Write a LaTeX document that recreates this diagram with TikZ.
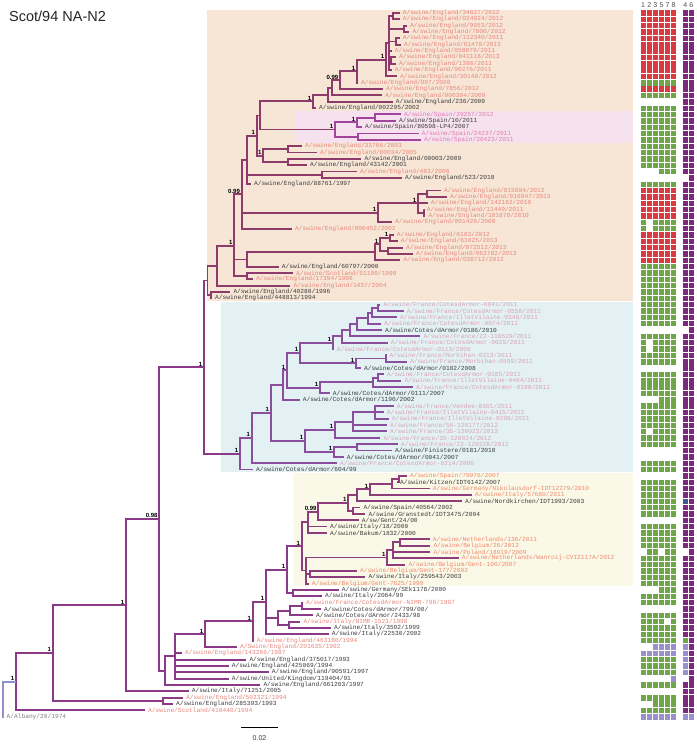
\documentclass[tikz,border=0pt]{standalone}
\usepackage{fontspec}
\setmainfont{Liberation Sans}
\newfontfamily\monof{Liberation Mono}
\usetikzlibrary{calc}
\definecolor{cp}{HTML}{E8867C}
\definecolor{cs}{HTML}{E07AAE}
\definecolor{cf}{HTML}{D9A2B6}
\definecolor{cy}{HTML}{EF8A6E}
\definecolor{ck}{HTML}{3C3C3C}
\definecolor{cg}{HTML}{808080}
\definecolor{bgE}{HTML}{F7E6D6}
\definecolor{bgS}{HTML}{F6E2EF}
\definecolor{bgF}{HTML}{E3F1F5}
\definecolor{bgY}{HTML}{FAF8E7}
\definecolor{hR}{HTML}{DA3A40}
\definecolor{hG}{HTML}{6EA648}
\definecolor{hP}{HTML}{7D2A7E}
\definecolor{hL}{HTML}{9A90CC}
\definecolor{hB}{HTML}{3A5A94}
\definecolor{hW}{HTML}{FFFFFF}
\definecolor{alb}{HTML}{9090D0}
\definecolor{brc}{HTML}{8E3A6A}
\newcommand\lf[5]{%
  \coordinate (#1) at ({#3-3},{13+(#2-1)*6.34});
  \node[lab,text=#4] (#1t) at (#3,{13+(#2-1)*6.34}) {#5};}
\newcommand\cl[4][]{%
  \gdef\fst{}%
  \foreach \ch in {#4}{\ifx\fst\empty\xdef\fst{\ch}\fi\xdef\lst{\ch}}%
  \if\relax\detokenize{#1}\relax
    \path let \p1=(\fst), \p2=(\lst) in coordinate (#2) at (#3pt,{0.5*(\y1+\y2)});
  \else
    \coordinate (#2) at (#3,#1);
  \fi
  \foreach \ch in {#4}{\draw[br] (#2) |- (\ch);}}
\newcommand\bl[2]{\node[blab] at (#1) {#2};}
\newcommand\hrow[2]{%
  \foreach \cc [count=\k] in {#2}{%
    \pgfmathsetmacro\xx{\k<7 ? 640.5+(\k-1)*6.1 : (\k==7 ? 682.7 : 688.7)}%
    \fill[color=h\cc] (\xx,{10.4+(#1-1)*6.34}) rectangle ++(5.3,5.4);}}
\newcommand\hrows[3]{\foreach \r in {#1,...,#2}{\hrow{\r}{#3}}}
\begin{document}
\begin{tikzpicture}[x=1pt,y=-1pt,
  lab/.style={anchor=west,inner sep=0pt,font=\monof\fontsize{6.2}{6.2}\selectfont},
  blab/.style={anchor=south east,inner sep=0pt,xshift=-1.6pt,yshift=0.9pt,font=\bfseries\fontsize{6}{6}\selectfont},
  br/.style={draw=brc,line width=1.9pt}]
\useasboundingbox (0,0) rectangle (696,744);
\fill[white] (0,0) rectangle (696,744);
% backgrounds
\fill[bgE] (207,10) rectangle (633,301);
\fill[bgS] (295,110.7) rectangle (633,142.7);
\fill[bgF] (221,302) rectangle (633,471.7);
\fill[bgY] (293,473.3) rectangle (633,585.7);
% title
\node[anchor=west,inner sep=0pt,font=\fontsize{14.5}{14.5}\selectfont,text=black!85] (title) at (9,16) {Scot/94 NA-N2};
% leaves
\lf{L1}{1}{402.7}{cp}{A/swine/England/34627/2012}
\lf{L2}{2}{402.7}{cp}{A/swine/England/024924/2012}
\lf{L3}{3}{410}{cp}{A/swine/England/9953/2012}
\lf{L4}{4}{412.3}{cp}{A/swine/England/7800/2012}
\lf{L5}{5}{402.7}{cp}{A/swine/England/112340/2011}
\lf{L6}{6}{404}{cp}{A/swine/England/61470/2013}
\lf{L7}{7}{394.7}{cp}{A/swine/England/058879/2011}
\lf{L8}{8}{399}{cp}{A/swine/England/041118/2013}
\lf{L9}{9}{399}{cp}{A/swine/England/1380/2011}
\lf{L10}{10}{394.7}{cp}{A/swine/England/90276/2011}
\lf{L11}{11}{400}{cp}{A/swine/England/30148/2012}
\lf{L12}{12}{361}{cp}{A/swine/England/997/2008}
\lf{L13}{13}{386}{cp}{A/swine/England/7856/2012}
\lf{L14}{14}{385}{cp}{A/swine/England/000304/2009}
\lf{L15}{15}{395.7}{ck}{A/swine/England/236/2009}
\lf{L16}{16}{319}{ck}{A/swine/England/002295/2002}
\lf{L17}{17}{404}{cs}{A/swine/Spain/29257/2012}
\lf{L18}{18}{399}{ck}{A/swine/Spain/10/2011}
\lf{L19}{19}{365}{ck}{A/swine/Spain/80598-LP4/2007}
\lf{L20}{20}{421.7}{cs}{A/swine/Spain/24237/2011}
\lf{L21}{21}{424}{cs}{A/swine/Spain/20423/2011}
\lf{L22}{22}{305}{cp}{A/swine/England/33766/2003}
\lf{L23}{23}{320}{cp}{A/swine/England/00034/2005}
\lf{L24}{24}{364.3}{ck}{A/swine/England/00003/2009}
\lf{L25}{25}{310}{ck}{A/swine/England/43142/2001}
\lf{L26}{26}{360}{cp}{A/swine/England/483/2006}
\lf{L27}{27}{405}{ck}{A/swine/England/523/2010}
\lf{L28}{28}{254}{ck}{A/swine/England/88761/1997}
\lf{L29}{29}{444}{cp}{A/swine/England/015804/2012}
\lf{L30}{30}{450}{cp}{A/swine/England/016947/2013}
\lf{L31}{31}{430.7}{cp}{A/swine/England/142162/2010}
\lf{L32}{32}{426.7}{cp}{A/swine/England/11449/2011}
\lf{L33}{33}{428.3}{cp}{A/swine/England/101878/2010}
\lf{L34}{34}{395}{cp}{A/swine/England/001428/2009}
\lf{L35}{35}{295}{cp}{A/swine/England/000452/2002}
\lf{L36}{36}{396.7}{cp}{A/swine/England/6183/2012}
\lf{L37}{37}{400.7}{cp}{A/swine/England/61025/2013}
\lf{L38}{38}{406}{cp}{A/swine/England/072512/2013}
\lf{L39}{39}{416}{cp}{A/swine/England/063782/2013}
\lf{L40}{40}{403.3}{cp}{A/swine/England/038712/2012}
\lf{L41}{41}{281.7}{ck}{A/swine/England/60797/2000}
\lf{L42}{42}{296}{cp}{A/swine/Scotland/51190/1999}
\lf{L43}{43}{256}{cp}{A/swine/England/17394/1996}
\lf{L44}{44}{293.3}{cp}{A/swine/England/1437/2004}
\lf{L45}{45}{233.3}{ck}{A/swine/England/40280/1996}
\lf{L46}{46}{215}{ck}{A/swine/England/448813/1994}
\lf{L47}{47}{383.3}{cf}{A/swine/France/CotesdArmor-0041/2011}
\lf{L48}{48}{406.7}{cf}{A/swine/France/CotesdArmor-0558/2011}
\lf{L49}{49}{400}{cf}{A/swine/France/IlletVilaine-0346/2011}
\lf{L50}{50}{384}{cf}{A/swine/France/CotesdArmor-0074/2011}
\lf{L51}{51}{385}{ck}{A/swine/Cotes/dArmor/0186/2010}
\lf{L52}{52}{423.3}{cf}{A/swine/France/22-110529/2011}
\lf{L53}{53}{390.7}{cf}{A/swine/France/CotesdArmor-0025/2011}
\lf{L54}{54}{336.7}{cf}{A/swine/France/CotesdArmor-0113/2006}
\lf{L55}{55}{389.3}{cf}{A/swine/France/Morbihan-0213/2011}
\lf{L56}{56}{410}{cf}{A/swine/France/Morbihan-0599/2011}
\lf{L57}{57}{364}{ck}{A/swine/Cotes/dArmor/0102/2008}
\lf{L58}{58}{386.7}{cf}{A/swine/France/CotesdArmor-0105/2011}
\lf{L59}{59}{404.3}{cf}{A/swine/France/IlletVilaine-0404/2011}
\lf{L60}{60}{416}{cf}{A/swine/France/CotesdArmor-0198/2011}
\lf{L61}{61}{332.7}{ck}{A/swine/Cotes/dArmor/0111/2007}
\lf{L62}{62}{302.7}{ck}{A/swine/Cotes/dArmor/1190/2002}
\lf{L63}{63}{396.7}{cf}{A/swine/France/Vendee-0301/2011}
\lf{L64}{64}{386.7}{cf}{A/swine/France/IlletVilaine-0415/2011}
\lf{L65}{65}{391.7}{cf}{A/swine/France/IlletVilaine-0208/2011}
\lf{L66}{66}{390}{cf}{A/swine/France/56-120177/2012}
\lf{L67}{67}{390}{cf}{A/swine/France/35-130023/2013}
\lf{L68}{68}{383.3}{cf}{A/swine/France/35-120024/2012}
\lf{L69}{69}{400.7}{cf}{A/swine/France/22-120228/2012}
\lf{L70}{70}{395}{ck}{A/swine/Finistere/0181/2010}
\lf{L71}{71}{346.7}{ck}{A/swine/Cotes/dArmor/0041/2007}
\lf{L72}{72}{340}{cf}{A/swine/France/CotesdArmor-0214/2006}
\lf{L73}{73}{256}{ck}{A/swine/Cotes/dArmor/604/99}
\lf{L74}{74}{410}{cy}{A/swine/Spain/79976/2007}
\lf{L75}{75}{400}{ck}{A/swine/Kitzen/IDT6142/2007}
\lf{L76}{76}{432.7}{cy}{A/swine/Germany/Nikolausdorf-IDT12279/2010}
\lf{L77}{77}{475}{cy}{A/swine/Italy/57680/2011}
\lf{L78}{78}{465}{ck}{A/swine/Nordkirchen/IDT1993/2003}
\lf{L79}{79}{363.3}{ck}{A/swine/Spain/40564/2002}
\lf{L80}{80}{368.3}{ck}{A/swine/Granstedt/IDT3475/2004}
\lf{L81}{81}{361.7}{ck}{A/sw/Gent/24/00}
\lf{L82}{82}{330}{ck}{A/swine/Italy/18/2000}
\lf{L83}{83}{330}{ck}{A/swine/Bakum/1832/2000}
\lf{L84}{84}{432.7}{cy}{A/swine/Netherlands/136/2011}
\lf{L85}{85}{433.3}{cy}{A/swine/Belgium/26/2012}
\lf{L86}{86}{433.3}{cy}{A/swine/Poland/18919/2009}
\lf{L87}{87}{461.7}{cy}{A/swine/Netherlands/Wanroij-CVI2117A/2012}
\lf{L88}{88}{408.3}{cy}{A/swine/Belgium/Gent-100/2007}
\lf{L89}{89}{360}{cy}{A/swine/Belgium/Gent-177/2002}
\lf{L90}{90}{368.3}{ck}{A/swine/Italy/259543/2003}
\lf{L91}{91}{311.7}{cy}{A/swine/Belgium/Gent-7625/1999}
\lf{L92}{92}{341.7}{ck}{A/swine/Germany/SEk1178/2000}
\lf{L93}{93}{325}{ck}{A/swine/Italy/2064/99}
\lf{L94}{94}{306}{cp}{A/swine/France/CotesdArmor-NIMR-790/1997}
\lf{L95}{95}{324}{ck}{A/swine/Cotes/dArmor/799/00/}
\lf{L96}{96}{316}{ck}{A/swine/Cotes/dArmor/2433/98}
\lf{L97}{97}{303.3}{cp}{A/swine/Italy/NIMR-1521/1998}
\lf{L98}{98}{334}{ck}{A/swine/Italy/3592/1999}
\lf{L99}{99}{331.7}{ck}{A/swine/Italy/22530/2002}
\lf{L100}{100}{256.7}{cp}{A/swine/England/463180/1994}
\lf{L101}{101}{240}{cp}{A/Swine/England/201635/1992}
\lf{L102}{102}{185}{cp}{A/swine/England/143266/1987}
\lf{L103}{103}{249.3}{ck}{A/swine/England/375017/1993}
\lf{L104}{104}{231.7}{ck}{A/swine/England/425069/1994}
\lf{L105}{105}{271.7}{ck}{A/swine/England/90591/1997}
\lf{L106}{106}{231.7}{ck}{A/swine/United/Kingdom/119404/91}
\lf{L107}{107}{263.3}{ck}{A/swine/England/661263/1997}
\lf{L108}{108}{191.7}{ck}{A/swine/Italy/71251/2005}
\lf{L109}{109}{186}{cp}{A/swine/England/502321/1994}
\lf{L110}{110}{176}{ck}{A/swine/England/285393/1993}
\lf{L111}{111}{148}{cp}{A/swine/Scotland/410440/1994}
\lf{L112}{112}{6.5}{cg}{A/Albany/20/1974}
% England clade
\definecolor{brc}{HTML}{8E3A6A}
\cl{n12}{393}{L1,L2}
\cl{n34}{404}{L3,L4}
\cl{n56}{396}{L5,L6}
\cl{n89}{391}{L8,L9}
\cl{sub}{389}{n12,n34,n56,L7,n89,L10}
\cl{C1}{386}{sub,L11}
\cl{N1}{357}{C1,L12}
\cl{N099}{340}{N1,L13}
\cl{N2}{332}{N099,L14}
\cl{N3}{328}{N2,L15}
\cl{NE1}{313}{N3,L16}
\definecolor{brc}{HTML}{A2449C}
\cl{nS11}{375}{L17,L18}
\cl{nS1}{357}{nS11,L19}
\cl{nS2}{358}{L20,L21}
\cl{nS}{335}{nS1,nS2}
\definecolor{brc}{HTML}{8E3A6A}
\cl{NES}{260}{NE1,nS}
\cl{n2223}{288}{L22,L23}
\cl{n2425}{288}{L24,L25}
\cl{nE2}{263.3}{n2223,n2425}
\cl{G1}{256.7}{NES,nE2}
\cl{n2627}{322}{L26,L27}
\cl{G2}{246.7}{G1,n2627,L28}
\cl{n2930}{427}{L29,L30}
\cl{n3233}{424}{L32,L33}
\cl{E3a}{418}{n2930,L31,n3233}
\cl{E3}{378}{E3a,L34}
\cl{Q}{241.7}{G2,E3,L35}
\cl{n3637}{390}{L36,L37}
\cl{n3839}{388}{L38,L39}
\cl{E4b}{380}{n3637,n3839}
\cl{E4}{375}{E4b,L40}
\cl{n4041}{246.7}{E4,L41}
\cl{n4243}{246.7}{L42,L43}
\cl[246]{P}{234.3}{Q,n4041,n4243}
\cl{O}{216.7}{P,L44}
\cl{n4546}{211}{L45,L46}
\cl{RE}{207.5}{O,n4546}
% France clade
\definecolor{brc}{HTML}{8A4E9C}
\cl{n4748}{378}{L47,L48}
\cl{nA1}{372}{n4748,L49}
\cl{nA2}{368}{nA1,L50}
\cl{nA3}{357}{nA2,L51}
\cl{nA4}{350}{nA3,L52}
\cl{nA5}{342}{nA4,L53}
\cl{F7}{333}{nA5,L54}
\cl{n5556}{386}{L55,L56}
\cl{F8}{356}{n5556,L57}
\cl{F5}{300}{F7,F8}
\cl{n5859}{378}{L58,L59}
\cl{F6a}{373}{n5859,L60}
\cl{F6}{320}{F6a,L61}
\cl{F3a}{287}{F5,F6}
\cl{F3}{283}{F3a,L62}
\cl{n6365}{375}{L63,L64,L65}
\cl{F4c}{353}{n6365,L66,L67}
\cl{F4a}{335}{F4c,L68}
\cl{n6970}{356.7}{L69,L70}
\cl{F4b}{334}{n6970,L71}
\cl{F4}{305}{F4a,F4b}
\cl{F2}{270.7}{F3,F4}
\cl{F1}{251.7}{F2,L72}
\cl{Fr}{240}{F1,L73}
\definecolor{brc}{HTML}{8B3A88}
\cl{B1}{204}{RE,Fr}
% yellow clade
\definecolor{brc}{HTML}{8F3C7C}
\cl{n7475}{399}{L74,L75}
\cl{n7476}{391.7}{n7475,L76}
\cl{n7477}{370}{n7476,L77}
\cl{n7478}{357}{n7477,L78}
\cl{n7980}{353.3}{L79,L80}
\cl{Y1a}{348.3}{n7478,n7980}
\cl{Y1}{318.3}{Y1a,L81}
\cl{Y1p}{308}{Y1,L82,L83}
\cl{n8485}{400}{L84,L85}
\cl{Y2a}{393.3}{n8485,L86,L87}
\cl{Y2}{387.3}{Y2a,L88}
\cl{n8990}{310}{L89,L90}
\cl{Y2p}{306}{Y2,n8990,L91}
\cl{Y}{301.7}{Y1p,Y2p}
\definecolor{brc}{HTML}{8B3A88}
\cl{n9293}{293.3}{L92,L93}
\cl{C4}{287}{Y,n9293}
\cl{n9495}{301.7}{L94,L95}
\cl{n9496}{290}{n9495,L96}
\cl{n9798}{289.3}{L97,L98}
\cl{C5}{278.3}{n9496,n9798}
\cl{C3}{266}{C4,C5,L99}
\cl{C2}{252.7}{C3,L100}
\cl{K1}{205}{C2,L101}
\cl{B4}{175}{K1,L102,L103,L104,L105,L106}
\cl{B3}{165}{B4,L107}
\cl{B2}{159.3}{B1,B3}
\cl{B0}{126}{B2,L108}
\cl{n109110}{163.3}{L109,L110}
\cl{A1}{52.7}{B0,n109110}
\cl{R}{16}{A1,L111}
\coordinate (T0) at (3.3,0);
\coordinate (T) at (R -| T0);
\draw[draw=alb,line width=1.9pt] (R) -- (T) |- (L112);
% support labels
\bl{C1}{1}\bl{N1}{1}\bl{N099}{0.99}\bl{NE1}{1}\bl{nS1}{1}\bl{nS}{1}
\bl{G1}{1}\bl{nE2}{1}\bl{E3a}{1}\bl{E3}{1}\bl{Q}{0.99}\bl{n3637}{1}\bl{E4b}{1}
\bl{P}{1}\bl{B1}{1}\bl{B2}{0.98}
\bl{F7}{1}\bl{F8}{1}\bl{F5}{1}\bl{F6}{1}\bl{F3a}{1}\bl{F4a}{1}\bl{F4b}{1}\bl{F4}{1}
\bl{F2}{1}\bl{F1}{1}\bl{Fr}{1}
\bl{n7477}{1}\bl{Y1a}{1}\bl{Y1}{0.99}\bl{Y2}{1}\bl{Y}{1}\bl{C4}{1}\bl{C3}{1}\bl{C2}{1}
\bl{K1}{1}\bl{B0}{1}\bl{A1}{1}\bl{R}{1}
% scale bar
\coordinate (sb1) at (241,727);
\coordinate (sb2) at (278,727);
\draw[line width=1pt] (sb1) -- (sb2);
\node[font=\fontsize{7}{7}\selectfont,text=ck] (sbl) at (259.5,738) {0.02};
% heat map header
\foreach \d [count=\k] in {1,2,3,5,7,8,4,6}{%
  \pgfmathsetmacro\xx{\k<7 ? 640.5+(\k-1)*6.1+2.65 : (\k==7 ? 685.35 : 691.35)}%
  \node[font=\fontsize{7}{7}\selectfont,text=black!70,inner sep=0pt] (hd\k) at (\xx,5) {\d};}
% heat map
\hrows{1}{11}{R,R,R,R,R,R,P,P}
\hrow{12}{G,G,G,G,G,G,P,P}
\hrow{13}{R,R,R,R,R,R,P,P}
\hrow{14}{G,G,G,G,G,G,P,P}
\hrow{15}{W,W,W,W,W,W,P,P}
\hrows{16}{25}{G,G,G,G,G,G,P,P}
\hrow{26}{W,W,W,G,G,G,P,P}
\hrow{27}{W,W,W,W,W,W,W,P}
\hrow{28}{G,G,G,G,G,G,P,P}
\hrows{29}{33}{R,R,R,R,R,R,P,P}
\hrows{34}{35}{G,W,G,G,G,G,P,P}
\hrows{36}{40}{R,R,R,R,R,R,P,P}
\hrows{41}{50}{G,G,G,G,G,G,P,P}
\hrow{51}{W,W,W,W,W,W,W,P}
\hrow{52}{G,G,G,G,G,G,P,P}
\hrows{53}{54}{G,W,G,G,G,G,P,P}
\hrows{55}{56}{G,G,G,G,G,G,P,P}
\hrow{57}{W,W,W,W,W,W,P,P}
\hrows{58}{61}{G,G,G,G,G,G,P,P}
\hrow{62}{W,W,W,G,G,G,P,P}
\hrows{63}{66}{G,G,G,G,G,G,P,P}
\hrow{67}{G,W,G,G,G,G,P,P}
\hrows{68}{69}{G,G,G,G,G,G,P,P}
\hrows{70}{71}{W,W,W,W,W,W,P,P}
\hrows{72}{73}{G,G,G,G,G,G,P,P}
\hrow{74}{W,W,W,W,W,W,P,P}
\hrows{75}{77}{G,G,G,G,G,G,P,P}
\hrow{78}{G,G,G,G,G,G,B,P}
\hrows{79}{80}{G,G,G,G,G,G,P,P}
\hrow{81}{W,W,W,W,W,W,P,P}
\hrows{82}{85}{G,G,G,G,G,G,P,P}
\hrow{86}{W,G,G,W,G,G,W,P}
\hrows{87}{91}{G,G,G,G,G,G,P,P}
\hrow{92}{W,W,W,G,G,G,P,P}
\hrows{93}{94}{G,G,G,G,G,G,P,P}
\hrow{95}{W,W,W,W,W,W,P,P}
\hrow{96}{G,G,G,G,G,G,P,P}
\hrow{97}{G,G,G,G,W,G,P,P}
\hrows{98}{99}{G,G,G,G,G,G,P,P}
\hrow{100}{G,G,G,G,G,G,G,P}
\hrow{101}{W,W,L,L,L,L,L,P}
\hrow{102}{L,L,L,L,L,L,L,P}
\hrows{103}{105}{G,G,G,G,G,G,L,P}
\hrow{106}{W,W,W,W,W,L,W,P}
\hrow{107}{G,G,G,G,G,G,P,P}
\hrow{108}{W,W,W,W,W,W,P,P}
\hrow{109}{G,G,G,G,G,G,P,P}
\hrow{110}{W,W,G,G,G,G,P,P}
\hrow{111}{G,G,G,G,G,G,P,P}
\hrow{112}{L,L,L,L,L,L,L,L}
\end{tikzpicture}
\end{document}
